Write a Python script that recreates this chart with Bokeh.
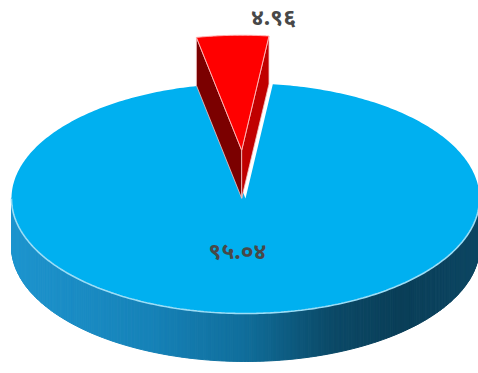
import numpy as np
from bokeh.plotting import figure
from bokeh.models import Range1d
from bokeh.core.properties import value
from bokeh.embed import file_html
from bokeh.resources import INLINE

# ---- data ----
categories = ["Series A", "Series B"]
values = [95.04, 4.96]
labels = ["९५.०४", "४.९६"]
top_colors = ["#00B0F0", "#FF0000"]
explode = [0.0, 0.42]

# ---- style / geometry ----
W, H = 478, 373
CX, CY, RX, RY, DEPTH = 245.0, 198.0, 234.0, 115.0, 48.0
START = 83.3  # degrees, slices run clockwise from here
label_xy = [(237, 249), (273, 15)]
radial_colors = ["#7B0000", "#C00000"]

p = figure(width=W, height=H, x_range=Range1d(0, W), y_range=Range1d(H, 0),
           output_backend="svg", toolbar_location=None, min_border=0)
p.axis.visible = False
p.grid.visible = False
p.outline_line_color = None

total = float(sum(values))


def ept(th_deg, ox=0.0, oy=0.0, dz=0.0):
    t = np.radians(th_deg)
    return CX + ox + RX * np.cos(t), CY + oy - RY * np.sin(t) + dz


def wall_color(x):
    stops = [(0, (30, 150, 208)), (150, (22, 130, 184)), (245, (16, 110, 155)),
             (330, (11, 74, 104)), (400, (10, 62, 88)), (478, (12, 70, 98))]
    for (x0, c0), (x1, c1) in zip(stops[:-1], stops[1:]):
        if x0 <= x <= x1:
            f = (x - x0) / (x1 - x0)
            c = [int(round(a + (b - a) * f)) for a, b in zip(c0, c1)]
            return "#%02x%02x%02x" % tuple(c)
    return "#%02x%02x%02x" % stops[-1][1]


# angular ranges
slices = []
a = START
for i, v in enumerate(values):
    span = 360.0 * v / total
    slices.append((a - span, a))
    a -= span

# offsets for exploded slices
offsets = []
for (t1, t2), e in zip(slices, explode):
    mid = np.radians((t1 + t2) / 2)
    offsets.append((RX * e * np.cos(mid), -RY * e * np.sin(mid)))

# ---- outer walls (front half only) ----
wx, wy, wc = [], [], []
for (t1, t2), (ox, oy) in zip(slices, offsets):
    n = int(abs(t2 - t1) * 1.5) + 2
    ths = np.linspace(t1, t2, n)
    for k in range(n - 1):
        m = (ths[k] + ths[k + 1]) / 2
        if np.sin(np.radians(m)) >= 0:
            continue
        xa, ya = ept(ths[k], ox, oy)
        xb, yb = ept(ths[k + 1], ox, oy)
        wx.append([xa, xb, xb, xa])
        wy.append([ya, yb, yb + DEPTH, ya + DEPTH])
        wc.append(wall_color((xa + xb) / 2))
p.patches(wx, wy, fill_color=wc, line_color=wc, line_width=1.0)

# ---- tops of non-exploded slices ----
for i, ((t1, t2), (ox, oy)) in enumerate(zip(slices, offsets)):
    if explode[i] > 0:
        continue
    ths = np.linspace(t1, t2, 400)
    xs, ys = ept(ths, ox, oy)
    p.patch(np.r_[CX + ox, xs], np.r_[CY + oy, ys], fill_color=top_colors[i],
            line_color=None)
    front = np.sin(np.radians(ths)) < 0
    p.line(xs[front], ys[front], line_color="#9BDDF6", line_width=1.6)

# ---- exploded slices ----
for i, ((t1, t2), (ox, oy)) in enumerate(zip(slices, offsets)):
    if explode[i] == 0:
        continue
    cx, cy = CX + ox, CY + oy
    for th, col in zip([t2, t1], radial_colors):
        x1, y1 = ept(th, ox, oy)
        p.patch([cx, x1, x1, cx], [cy, y1, y1 + DEPTH, cy + DEPTH],
                fill_color=col, line_color="#F2C4C4", line_width=0.8)
    ths = np.linspace(t1, t2, 60)
    xs, ys = ept(ths, ox, oy)
    p.patch(np.r_[cx, xs], np.r_[cy, ys], fill_color=top_colors[i],
            line_color="#FFB3B3", line_width=1)

# ---- labels ----
p.text(x=[xy[0] for xy in label_xy], y=[xy[1] for xy in label_xy], text=labels,
       text_align="center", text_baseline="middle", text_font=value("Noto Sans"),
       text_font_size="23px", text_font_style="bold", text_color="#484848")

open("out.html", "w").write(file_html(p, INLINE))
